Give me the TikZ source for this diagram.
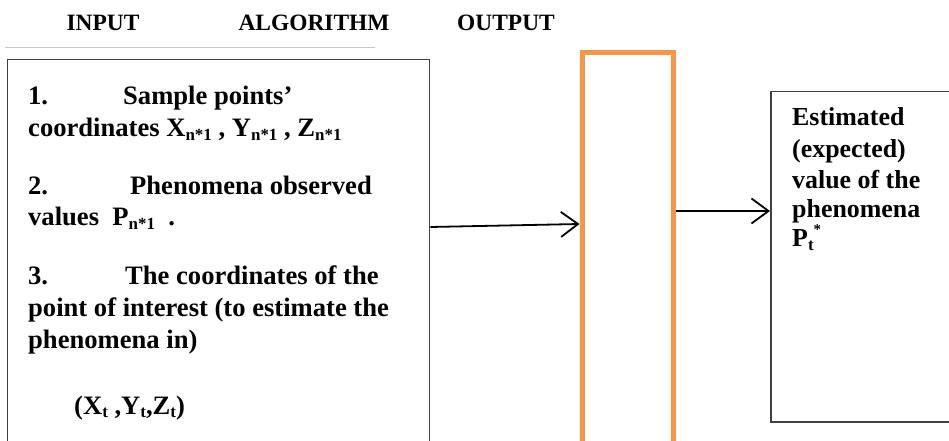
\documentclass[tikz,border=0pt]{standalone}
\usepackage{fontspec}
\setmainfont{Liberation Serif}
\usetikzlibrary{arrows.meta}

\definecolor{boxline}{HTML}{404040}
\definecolor{algoorange}{HTML}{F79646}
\definecolor{ruleline}{HTML}{C8C8C8}

% subscript / superscript helpers for the bold text
\newcommand\dnidx[1]{\raisebox{-0.28ex}{\fontsize{17}{17}\selectfont\bfseries #1}}
\newcommand\upidx[1]{\raisebox{12bp}{\fontsize{15}{15}\selectfont\bfseries #1}}

\tikzset{
  head/.style={font=\fontsize{23.5}{27}\selectfont\bfseries, inner sep=0pt, anchor=base},
  body/.style={font=\fontsize{26.7}{31}\selectfont\bfseries, inner sep=0pt, anchor=base west},
  outtext/.style={body, font=\fontsize{26}{31}\selectfont\bfseries},
  frame/.style={draw=boxline, line width=1.3bp, inner sep=0pt, anchor=north west},
  algobox/.style={draw=algoorange, line width=5bp, inner sep=0pt, anchor=north west},
  arr/.style={line width=1.8bp, -{Straight Barb[length=17bp, width=25bp, line width=1.8bp]}},
}

\begin{document}
\begin{tikzpicture}[x=1bp, y=-1bp]
  \useasboundingbox (0,0) rectangle (949,441);
  \clip (0,0) rectangle (949,441);

  % column headers
  \node[head] (hin)  at (103,31) {INPUT};
  \node[head] (halg) at (314,31) {ALGORITHM};
  \node[head] (hout) at (506,31) {OUTPUT};

  % thin rule under the headers
  \coordinate (ruleA) at (5,48);
  \coordinate (ruleB) at (375,48);
  \draw[ruleline, line width=1bp] (ruleA) -- (ruleB);

  % boxes
  \node[frame, minimum width=422bp, minimum height=420bp] (inbox) at (7,59) {};
  \node[algobox, minimum width=91bp, minimum height=420bp] (algo) at (579.5,50.5) {};
  \node[frame, line width=1.5bp, minimum width=200bp, minimum height=330bp] (outbox) at (770,91) {};

  % input text
  \node[body] (i1) at (28,105) {\makebox[95bp][l]{1.}Sample points’};
  \node[body] (i2) at (28,137) {coordinates X\dnidx{n*1} , Y\dnidx{n*1} , Z\dnidx{n*1}};
  \node[body] (i3) at (28,195) {\makebox[102bp][l]{2.}Phenomena observed};
  \node[body] (i4) at (28,226) {values\ \ P\dnidx{n*1}\ \ .};
  \node[body] (i5) at (28,285) {\makebox[97bp][l]{3.}The coordinates of the};
  \node[body] (i6) at (28,317) {point of interest (to estimate the};
  \node[body] (i7) at (28,349) {phenomena in)};
  \node[body] (i8) at (74,414) {(X\dnidx{t} ,Y\dnidx{t},Z\dnidx{t})};

  % output text
  \node[outtext] (o1) at (792,126) {Estimated};
  \node[outtext] (o2) at (792,158) {(expected)};
  \node[outtext] (o3) at (792,189) {value of the};
  \node[outtext] (o4) at (792,218) {phenomena};
  \node[outtext] (o5) at (792,247) {P\dnidx{t}\upidx{*}};

  % flow arrows
  \draw[arr] (inbox.east |- 0,227) -- (algo.west |- 0,224);
  \draw[arr] (algo.east |- 0,211) -- (outbox.west |- 0,211);
\end{tikzpicture}
\end{document}
